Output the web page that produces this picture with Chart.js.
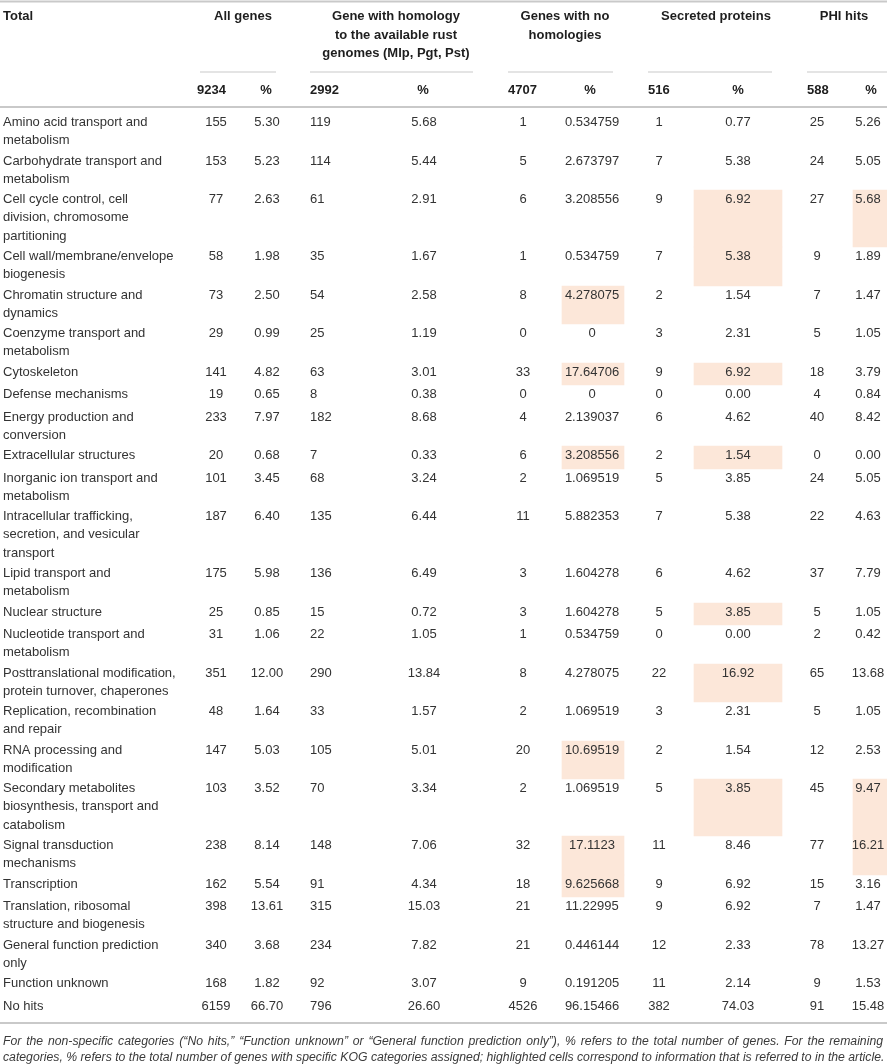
<!DOCTYPE html>
<html>
<head>
<meta charset="utf-8">
<script src="https://cdn.jsdelivr.net/npm/chart.js@4.4.1/dist/chart.umd.min.js"></script>
<style>
    html, body { margin: 0; padding: 0; background: #ffffff; }
    #kogTable { display: block; }
</style>
</head>
<body>
<canvas id="kogTable" width="887" height="1064"></canvas>
<script>
// KOG categories (line breaks as printed)
const categories = [
    'Amino acid transport and\nmetabolism',
    'Carbohydrate transport and\nmetabolism',
    'Cell cycle control, cell\ndivision, chromosome\npartitioning',
    'Cell wall/membrane/envelope\nbiogenesis',
    'Chromatin structure and\ndynamics',
    'Coenzyme transport and\nmetabolism',
    'Cytoskeleton',
    'Defense mechanisms',
    'Energy production and\nconversion',
    'Extracellular structures',
    'Inorganic ion transport and\nmetabolism',
    'Intracellular trafficking,\nsecretion, and vesicular\ntransport',
    'Lipid transport and\nmetabolism',
    'Nuclear structure',
    'Nucleotide transport and\nmetabolism',
    'Posttranslational modification,\nprotein turnover, chaperones',
    'Replication, recombination\nand repair',
    'RNA processing and\nmodification',
    'Secondary metabolites\nbiosynthesis, transport and\ncatabolism',
    'Signal transduction\nmechanisms',
    'Transcription',
    'Translation, ribosomal\nstructure and biogenesis',
    'General function prediction\nonly',
    'Function unknown',
    'No hits'
];

const allGenes = [155, 153, 77, 58, 73, 29, 141, 19, 233, 20, 101, 187, 175, 25, 31, 351, 48, 147, 103, 238, 162, 398, 340, 168, 6159];
const allGenesPct = [5.30, 5.23, 2.63, 1.98, 2.50, 0.99, 4.82, 0.65, 7.97, 0.68, 3.45, 6.40, 5.98, 0.85, 1.06, 12.00, 1.64, 5.03, 3.52, 8.14, 5.54, 13.61, 3.68, 1.82, 66.70];
const homologyGenes = [119, 114, 61, 35, 54, 25, 63, 8, 182, 7, 68, 135, 136, 15, 22, 290, 33, 105, 70, 148, 91, 315, 234, 92, 796];
const homologyPct = [5.68, 5.44, 2.91, 1.67, 2.58, 1.19, 3.01, 0.38, 8.68, 0.33, 3.24, 6.44, 6.49, 0.72, 1.05, 13.84, 1.57, 5.01, 3.34, 7.06, 4.34, 15.03, 7.82, 3.07, 26.60];
const noHomologyGenes = [1, 5, 6, 1, 8, 0, 33, 0, 4, 6, 2, 11, 3, 3, 1, 8, 2, 20, 2, 32, 18, 21, 21, 9, 4526];
const noHomologyPct = [0.534759, 2.673797, 3.208556, 0.534759, 4.278075, 0, 17.64706, 0, 2.139037, 3.208556, 1.069519, 5.882353, 1.604278, 1.604278, 0.534759, 4.278075, 1.069519, 10.69519, 1.069519, 17.1123, 9.625668, 11.22995, 0.446144, 0.191205, 96.15466];
const secretedProteins = [1, 7, 9, 7, 2, 3, 9, 0, 6, 2, 5, 7, 6, 5, 0, 22, 3, 2, 5, 11, 9, 9, 12, 11, 382];
const secretedPct = [0.77, 5.38, 6.92, 5.38, 1.54, 2.31, 6.92, 0.00, 4.62, 1.54, 3.85, 5.38, 4.62, 3.85, 0.00, 16.92, 2.31, 1.54, 3.85, 8.46, 6.92, 6.92, 2.33, 2.14, 74.03];
const phiHits = [25, 24, 27, 9, 7, 5, 18, 4, 40, 0, 24, 22, 37, 5, 2, 65, 5, 12, 45, 77, 15, 7, 78, 9, 91];
const phiPct = [5.26, 5.05, 5.68, 1.89, 1.47, 1.05, 3.79, 0.84, 8.42, 0.00, 5.05, 4.63, 7.79, 1.05, 0.42, 13.68, 1.05, 2.53, 9.47, 16.21, 3.16, 1.47, 13.27, 1.53, 15.48];

const groupHeaders = ['All genes', 'Gene with homology\nto the available rust\ngenomes (Mlp, Pgt, Pst)', 'Genes with no\nhomologies', 'Secreted proteins', 'PHI hits'];
const totals = [9234, 2992, 4707, 516, 588];

// highlighted cells: [row index, column]
const highlighted = [
    [2, 'sec'], [3, 'sec'], [2, 'phi'],
    [4, 'noHom'],
    [6, 'noHom'], [6, 'sec'],
    [9, 'noHom'], [9, 'sec'],
    [13, 'sec'], [15, 'sec'],
    [17, 'noHom'],
    [18, 'sec'], [18, 'phi'],
    [19, 'noHom'], [19, 'phi'],
    [20, 'noHom']
];

const footnote = [
    'For the non-specific categories (\u201CNo hits,\u201D \u201CFunction unknown\u201D or \u201CGeneral function prediction only\u201D), % refers to the total number of genes. For the remaining',
    'categories, % refers to the total number of genes with specific KOG categories assigned; highlighted cells correspond to information that is referred to in the article.'
];

document.addEventListener("DOMContentLoaded", function() {
    const FONT = '"Liberation Sans", Arial, Helvetica, sans-serif';
    const TEXT = '#333333';
    const HEAD = '#1e1e1e';
    const RULE = '#c9c9c9';
    const HIGHLIGHT = '#fce7d9';

    // row layout (table units = page pixels)
    const LINE = 18.6;
    const ROW_H = [0, 22.5, 38.5, 57];
    const rowTops = [];
    let acc = 113;
    categories.forEach(function(c) {
        rowTops.push(Math.round(acc));
        acc += ROW_H[c.split('\n').length];
    });
    rowTops.push(Math.round(acc));

    const highlightCols = {
        noHom: { x: 593, w: 62 },
        sec: { x: 738, w: 88 },
        phi: { x: 870, w: 34 }
    };

    const fmt2 = v => v.toFixed(2);
    const fmtN = v => String(v);
    const columns = [
        { values: allGenes, f: fmtN, x: 216, align: 'center' },
        { values: allGenesPct, f: fmt2, x: 267, align: 'center' },
        { values: homologyGenes, f: fmtN, x: 310, align: 'left' },
        { values: homologyPct, f: fmt2, x: 424, align: 'center' },
        { values: noHomologyGenes, f: fmtN, x: 523, align: 'center' },
        { values: noHomologyPct, f: fmtN, x: 592, align: 'center' },
        { values: secretedProteins, f: fmtN, x: 659, align: 'center' },
        { values: secretedPct, f: fmt2, x: 738, align: 'center' },
        { values: phiHits, f: fmtN, x: 817, align: 'center' },
        { values: phiPct, f: fmt2, x: 868, align: 'center' }
    ];

    const groupLayout = [
        { center: 243, line: [200, 276] },
        { center: 396, line: [310, 473] },
        { center: 565, line: [508, 613] },
        { center: 716, line: [648, 772] },
        { center: 844, line: [807, 887] }
    ];
    const totalsLayout = [
        { x: 197, align: 'left', pctX: 266 },
        { x: 310, align: 'left', pctX: 423 },
        { x: 508, align: 'left', pctX: 590 },
        { x: 648, align: 'left', pctX: 738 },
        { x: 807, align: 'left', pctX: 871 }
    ];

    const datasets = Object.keys(highlightCols).map(function(key) {
        const col = highlightCols[key];
        return {
            label: key,
            data: highlighted.filter(h => h[1] === key).map(h => ({ x: col.x, y: [rowTops[h[0]], rowTops[h[0] + 1]] })),
            backgroundColor: HIGHLIGHT,
            borderWidth: 0,
            barThickness: col.w,
            grouped: false
        };
    });

    const tablePlugin = {
        id: 'tableText',
        beforeDatasetsDraw(chart) {
            const ctx = chart.ctx;
            const xs = chart.scales.x, ys = chart.scales.y;
            const rule = function(x0, x1, y, w) {
                ctx.beginPath();
                ctx.moveTo(xs.getPixelForValue(x0), ys.getPixelForValue(y));
                ctx.lineTo(xs.getPixelForValue(x1), ys.getPixelForValue(y));
                ctx.lineWidth = w;
                ctx.stroke();
            };
            ctx.save();
            ctx.strokeStyle = RULE;
            rule(0, 887, 1.5, 2);
            groupLayout.forEach(g => rule(g.line[0], g.line[1], 72, 1.2));
            rule(0, 887, 107, 2);
            rule(0, 887, 1023, 2);
            ctx.restore();
        },
        afterDatasetsDraw(chart) {
            const ctx = chart.ctx;
            const xs = chart.scales.x, ys = chart.scales.y;
            const put = function(text, x, y, align) {
                ctx.textAlign = align;
                ctx.fillText(text, xs.getPixelForValue(x), ys.getPixelForValue(y));
            };
            ctx.save();
            ctx.textBaseline = 'middle';

            // header
            ctx.fillStyle = HEAD;
            ctx.font = 'bold 13px ' + FONT;
            put('Total', 3, 16.7, 'left');
            groupHeaders.forEach(function(h, i) {
                h.split('\n').forEach((line, j) => put(line, groupLayout[i].center, 16.7 + j * 18.3, 'center'));
            });
            totals.forEach(function(t, i) {
                const l = totalsLayout[i];
                put(String(t), l.x, 90, l.align);
                put('%', l.pctX, 90, 'center');
            });

            // body
            ctx.fillStyle = TEXT;
            ctx.font = '13px ' + FONT;
            categories.forEach(function(cat, r) {
                const y0 = rowTops[r] + 9.3;
                cat.split('\n').forEach((line, j) => put(line, 3, y0 + j * LINE, 'left'));
                columns.forEach(col => put(col.f(col.values[r]), col.x, y0, col.align));
            });

            // footnote
            ctx.fillStyle = '#3a3a3a';
            ctx.font = 'italic 12px ' + FONT;
            const size = 12 * 882 / ctx.measureText(footnote[1]).width;
            ctx.font = 'italic ' + size.toFixed(2) + 'px ' + FONT;
            const w1 = ctx.measureText(footnote[0]).width;
            const spaces = footnote[0].split(' ').length - 1;
            ctx.wordSpacing = Math.max(0, (880 - w1) / spaces) + 'px';
            put(footnote[0], 3, 1041.5, 'left');
            ctx.wordSpacing = '0px';
            put(footnote[1], 3, 1058, 'left');
            ctx.restore();
        }
    };

    new Chart(document.getElementById('kogTable'), {
        type: 'bar',
        data: { datasets: datasets },
        options: {
            responsive: false,
            animation: false,
            layout: { padding: 0 },
            scales: {
                x: { type: 'linear', min: 0, max: 887, offset: false, display: false },
                y: { type: 'linear', min: 0, max: 1064, reverse: true, offset: false, display: false }
            },
            plugins: {
                legend: { display: false },
                tooltip: { enabled: false }
            }
        },
        plugins: [tablePlugin]
    });
});
</script>
</body>
</html>
